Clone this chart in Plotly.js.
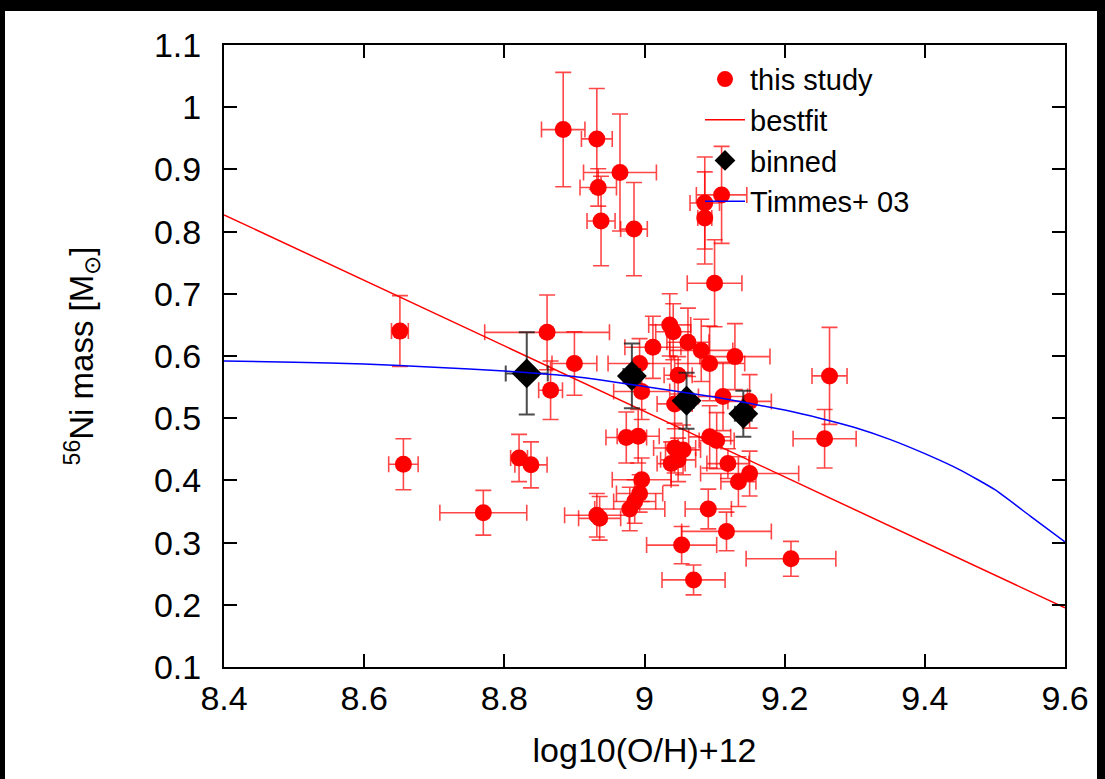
<!DOCTYPE html>
<html>
<head>
<meta charset="utf-8">
<script src="https://cdn.plot.ly/plotly-3.0.1.min.js"></script>
<style>
  html, body { margin: 0; padding: 0; background: #000; width: 1105px; height: 779px; overflow: hidden; }
  #chart { position: absolute; left: 5px; top: 11px; width: 1092px; height: 768px; background: #fff; }
</style>
</head>
<body>
<div id="chart"></div>
<script>
// "this study" data: log10(O/H)+12, 56Ni mass, and their errors
const studyX = [8.884, 8.932, 8.965, 8.934, 8.938, 8.985, 9.110, 9.086, 9.086, 9.100,
                8.651, 8.861, 8.900, 8.866, 8.656, 8.821, 8.838, 8.770, 8.932, 8.936,
                9.036, 9.041, 9.012, 9.062, 9.081, 9.093, 9.129, 8.993, 9.048, 8.996,
                9.112, 9.150, 9.043, 8.974, 8.991, 9.093, 9.103, 9.043, 9.055, 9.038,
                9.048, 9.119, 9.150, 9.134, 8.996, 8.993, 8.986, 8.979, 9.091, 9.117,
                9.053, 9.070, 9.209, 9.264, 9.257];
const studyY = [0.964, 0.949, 0.895, 0.871, 0.817, 0.804, 0.859, 0.846, 0.822, 0.717,
                0.640, 0.638, 0.588, 0.545, 0.426, 0.436, 0.425, 0.348, 0.344, 0.339,
                0.650, 0.639, 0.614, 0.622, 0.609, 0.588, 0.599, 0.588, 0.569, 0.543,
                0.535, 0.527, 0.523, 0.469, 0.471, 0.470, 0.464, 0.452, 0.449, 0.427,
                0.433, 0.427, 0.411, 0.398, 0.401, 0.379, 0.366, 0.354, 0.354, 0.318,
                0.296, 0.240, 0.274, 0.568, 0.467];
const studyXerr = [0.031, 0.022, 0.052, 0.026, 0.020, 0.019, 0.036, 0.021, 0.010, 0.039,
                   0.012, 0.089, 0.032, 0.017, 0.021, 0.012, 0.023, 0.062, 0.046, 0.030,
                   0.030, 0.025, 0.040, 0.030, 0.045, 0.050, 0.050, 0.045, 0.020, 0.040,
                   0.035, 0.031, 0.025, 0.029, 0.030, 0.030, 0.025, 0.030, 0.025, 0.020,
                   0.025, 0.030, 0.070, 0.025, 0.042, 0.033, 0.030, 0.050, 0.033, 0.064,
                   0.050, 0.045, 0.064, 0.025, 0.045];
const studyYerr = [0.092, 0.081, 0.094, 0.030, 0.072, 0.075, 0.078, 0.074, 0.074, 0.070,
                   0.057, 0.060, 0.051, 0.047, 0.041, 0.038, 0.037, 0.036, 0.035, 0.035,
                   0.050, 0.045, 0.050, 0.055, 0.050, 0.060, 0.053, 0.040, 0.030, 0.045,
                   0.055, 0.043, 0.040, 0.041, 0.043, 0.050, 0.045, 0.040, 0.040, 0.035,
                   0.035, 0.024, 0.036, 0.040, 0.035, 0.030, 0.035, 0.035, 0.032, 0.031,
                   0.030, 0.024, 0.028, 0.078, 0.047];

// best-fit line
const fitX = [8.4, 9.6];
const fitY = [0.827, 0.195];

// binned values
const binX = [8.832, 8.982, 9.060, 9.141];
const binY = [0.572, 0.568, 0.528, 0.507];
const binXerr = [0.030, 0.012, 0.010, 0.012];
const binYerr = [0.066, 0.052, 0.045, 0.037];

// Timmes+ 03 curve
const timmesX = [8.4, 8.5, 8.6, 8.7, 8.8, 8.9, 9.0, 9.1, 9.2, 9.25, 9.3, 9.35, 9.4, 9.45, 9.5, 9.55, 9.6];
const timmesY = [0.592, 0.590, 0.587, 0.582, 0.576, 0.567, 0.551, 0.534, 0.513, 0.500, 0.485, 0.466, 0.443, 0.417, 0.385, 0.343, 0.301];

// axis ticks
const xTicks = [8.4, 8.6, 8.8, 9.0, 9.2, 9.4, 9.6];
const xTickText = ['8.4', '8.6', '8.8', '9', '9.2', '9.4', '9.6'];
const yTicks = [0.1, 0.2, 0.3, 0.4, 0.5, 0.6, 0.7, 0.8, 0.9, 1.0, 1.1];
const yTickText = ['0.1', '0.2', '0.3', '0.4', '0.5', '0.6', '0.7', '0.8', '0.9', '1', '1.1'];

const FONT = 'Liberation Sans, Arial, Helvetica, sans-serif';

const traces = [
  {
    type: 'scatter', mode: 'markers', name: 'this study',
    x: studyX, y: studyY,
    marker: { color: 'rgb(255,0,0)', size: 17, symbol: 'circle' },
    error_x: { type: 'data', array: studyXerr, visible: true, color: 'rgba(255,0,0,0.72)', thickness: 1.6, width: 8 },
    error_y: { type: 'data', array: studyYerr, visible: true, color: 'rgba(255,0,0,0.72)', thickness: 1.6, width: 8 }
  },
  {
    type: 'scatter', mode: 'lines', name: 'bestfit',
    x: fitX, y: fitY,
    line: { color: 'rgb(255,0,0)', width: 1.5 }
  },
  {
    type: 'scatter', mode: 'markers', name: 'binned',
    x: binX, y: binY,
    marker: { color: '#000', size: 23, symbol: 'diamond' },
    error_x: { type: 'data', array: binXerr, visible: true, color: 'rgba(30,30,30,0.8)', thickness: 2, width: 8 },
    error_y: { type: 'data', array: binYerr, visible: true, color: 'rgba(30,30,30,0.8)', thickness: 2, width: 8 }
  },
  {
    type: 'scatter', mode: 'lines', name: 'Timmes+ 03',
    x: timmesX, y: timmesY, line: { color: 'rgb(0,0,255)', width: 1.5, shape: 'spline', smoothing: 0.5 }
  }
];

const layout = {
  width: 1092, height: 768,
  margin: { l: 219, r: 32, t: 34, b: 112 },
  paper_bgcolor: '#fff', plot_bgcolor: '#fff',
  font: { family: FONT, color: '#000', size: 34 },
  showlegend: true,
  legend: {
    x: 0.566, y: 0.986, xanchor: 'left', yanchor: 'top',
    bgcolor: 'rgba(0,0,0,0)', borderwidth: 0,
    font: { family: FONT, size: 29, color: '#000' },
    tracegroupgap: 0, itemwidth: 40
  },
  xaxis: {
    range: [8.4, 9.6], tickmode: 'array', tickvals: xTicks, ticktext: xTickText,
    ticks: 'inside', ticklen: 13, tickwidth: 2, tickcolor: '#000',
    showline: true, linecolor: '#000', linewidth: 2, mirror: 'ticks',
    showgrid: false, zeroline: false, ticklabelstandoff: 0,
    tickfont: { family: FONT, size: 34 },
    title: { text: 'log10(O/H)+12', font: { family: FONT, size: 34 }, standoff: 22 }
  },
  yaxis: {
    range: [0.1, 1.1], tickmode: 'array', tickvals: yTicks, ticktext: yTickText,
    ticks: 'inside', ticklen: 13, tickwidth: 2, tickcolor: '#000',
    showline: true, linecolor: '#000', linewidth: 2, mirror: 'ticks',
    showgrid: false, zeroline: false, ticklabelstandoff: 14,
    tickfont: { family: FONT, size: 34 },
    title: { text: '<sup>56</sup>Ni mass [M<sub>⊙</sub>]', font: { family: FONT, size: 33 }, standoff: 50 }
  }
};

Plotly.newPlot('chart', traces, layout, { displayModeBar: false, staticPlot: true });
</script>
</body>
</html>
